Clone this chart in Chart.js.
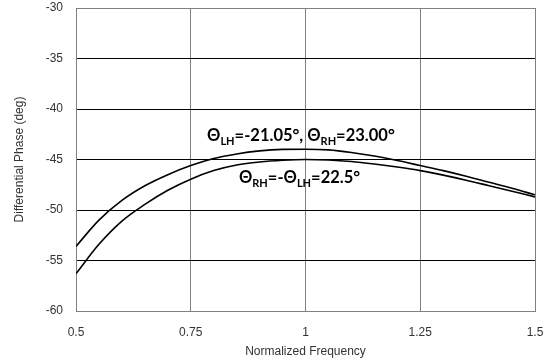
<!DOCTYPE html>
<html>
<head>
<meta charset="utf-8">
<script src="https://cdn.jsdelivr.net/npm/chart.js@4"></script>
<style>
  html, body { margin: 0; padding: 0; background: #fff; }
  #wrap { width: 551px; height: 363px; }
</style>
</head>
<body>
<div id="wrap"><canvas id="chart-phase" width="551" height="363"></canvas></div>
<script>
// normalized frequency samples
const freq = [0.50, 0.55, 0.60, 0.65, 0.70, 0.75, 0.80, 0.85, 0.90, 0.95, 1.00,
              1.05, 1.10, 1.15, 1.20, 1.25, 1.30, 1.35, 1.40, 1.45, 1.50];
// Θ_LH=-21.05°, Θ_RH=23.00°
const phaseAsym = [-53.6, -51.0, -49.05, -47.6, -46.5, -45.6, -44.9, -44.45, -44.15, -44.0, -43.98,
                   -44.05, -44.3, -44.65, -45.1, -45.6, -46.1, -46.65, -47.25, -47.85, -48.5];
// Θ_RH=-Θ_LH=22.5°
const phaseSym = [-56.3, -53.4, -51.1, -49.45, -48.05, -46.95, -46.1, -45.55, -45.25, -45.08, -45.0,
                  -45.05, -45.2, -45.45, -45.75, -46.1, -46.55, -47.05, -47.6, -48.15, -48.7];
const xTicks = [0.5, 0.75, 1, 1.25, 1.5];
const yTicks = [-60, -55, -50, -45, -40, -35, -30];

// curve labels: [text, subscript?], anchored in data units (center x, baseline y)
const labels = [
  { parts: [['Θ', 0], ['LH', 1], ['=-21.05°, ', 0], ['Θ', 0], ['RH', 1], ['=23.00°', 0]], x: 0.99, y: -43.15 },
  { parts: [['Θ', 0], ['RH', 1], ['=-', 0], ['Θ', 0], ['LH', 1], ['=22.5°', 0]], x: 0.987, y: -47.35 }
];

const toPts = (ys) => freq.map((f, i) => ({ x: f, y: ys[i] }));

const curveLabels = {
  id: 'curveLabels',
  afterDatasetsDraw(chart) {
    const { ctx, scales: { x, y } } = chart;
    const big = 'bold 16.5px Lato, "Open Sans", sans-serif';
    const small = 'bold 11px Lato, "Open Sans", sans-serif';
    ctx.save();
    ctx.fillStyle = '#000';
    ctx.textBaseline = 'alphabetic';
    ctx.textAlign = 'left';
    labels.forEach(l => {
      let w = 0;
      l.parts.forEach(([t, sub]) => { ctx.font = sub ? small : big; w += ctx.measureText(t).width; });
      let px = x.getPixelForValue(l.x) - w / 2;
      const py = y.getPixelForValue(l.y);
      l.parts.forEach(([t, sub]) => {
        ctx.font = sub ? small : big;
        ctx.fillText(t, px, sub ? py + 4 : py);
        px += ctx.measureText(t).width;
      });
    });
    ctx.restore();
  }
};

const tickFont = { family: '"Liberation Sans", Arial, sans-serif', size: 12 };
const tickColor = '#333';

new Chart(document.getElementById('chart-phase').getContext('2d'), {
  type: 'line',
  data: {
    datasets: [
      { data: toPts(phaseAsym), borderColor: '#000', borderWidth: 1.6, pointRadius: 0, cubicInterpolationMode: 'monotone', fill: false },
      { data: toPts(phaseSym), borderColor: '#000', borderWidth: 1.6, pointRadius: 0, cubicInterpolationMode: 'monotone', fill: false }
    ]
  },
  options: {
    responsive: false,
    animation: false,
    layout: { padding: { left: 0, right: 16, top: 8, bottom: 0 } },
    plugins: { legend: { display: false }, tooltip: { enabled: false } },
    scales: {
      x: {
        type: 'linear', min: 0.5, max: 1.5,
        afterBuildTicks: s => { s.ticks = xTicks.map(v => ({ value: v })); },
        afterFit: s => { s.height = 52; s.paddingLeft = 0; s.paddingRight = 0; },
        ticks: { font: tickFont, color: tickColor, padding: 14, maxRotation: 0,
                 callback: v => String(v) },
        grid: { color: '#808080', lineWidth: 1, drawTicks: false },
        border: { color: '#808080', width: 1 },
        title: { display: true, text: 'Normalized Frequency', font: tickFont, color: tickColor, padding: { top: 0, bottom: 4 } }
      },
      y: {
        type: 'linear', min: -60, max: -30,
        afterBuildTicks: s => { s.ticks = yTicks.map(v => ({ value: v })); },
        afterFit: s => { s.width = 76; s.paddingTop = 0; s.paddingBottom = 0; },
        ticks: { font: tickFont, color: tickColor, padding: 13 },
        grid: {
          color: c => (c.tick && (c.tick.value === -30 || c.tick.value === -60)) ? '#808080' : '#000',
          lineWidth: 1, drawTicks: false
        },
        border: { color: '#808080', width: 1 },
        title: { display: true, text: 'Differential Phase (deg)', font: tickFont, color: tickColor, padding: { top: 12, bottom: 0 } }
      }
    }
  },
  plugins: [curveLabels]
});
</script>
</body>
</html>
